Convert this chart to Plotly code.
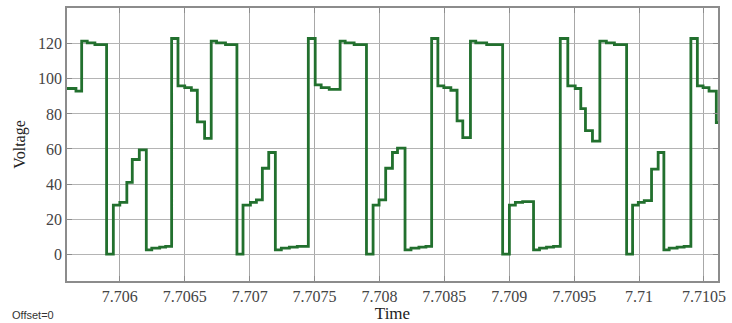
import plotly.graph_objects as go

# Step-waveform breakpoints (time in s) and voltage level held from each breakpoint
time_s = [
    7.705593, 7.705662, 7.705706, 7.705749, 7.705808, 7.705898, 7.705950, 7.706000,
    7.706054, 7.706096, 7.706150, 7.706204, 7.706246, 7.706307, 7.706353, 7.706399,
    7.706448, 7.706500, 7.706551, 7.706597, 7.706653, 7.706704, 7.706745, 7.706814,
    7.706902, 7.706949, 7.707006, 7.707052, 7.707098, 7.707147, 7.707198, 7.707244,
    7.707306, 7.707367, 7.707452, 7.707505, 7.707551, 7.707613, 7.707697, 7.707736,
    7.707805, 7.707900, 7.707951, 7.707997, 7.708048, 7.708100, 7.708139, 7.708197,
    7.708243, 7.708304, 7.708358, 7.708402, 7.708450, 7.708496, 7.708550, 7.708598,
    7.708642, 7.708701, 7.708742, 7.708826, 7.708949, 7.709001, 7.709047, 7.709103,
    7.709187, 7.709233, 7.709287, 7.709341, 7.709393, 7.709451, 7.709508, 7.709551,
    7.709587, 7.709641, 7.709698, 7.709748, 7.709810, 7.709904, 7.709950, 7.709994,
    7.710040, 7.710096, 7.710147, 7.710191, 7.710232, 7.710293, 7.710347, 7.710399,
    7.710449, 7.710493, 7.710539, 7.710595, 7.710610,
]
voltage = [
    94.5, 93.0, 121.5, 120.5, 119.5, 0.0, 28.0, 29.5,
    41.0, 54.0, 59.5, 2.5, 3.5, 4.0, 4.5, 123.0,
    96.0, 95.0, 93.5, 75.5, 66.0, 121.5, 120.5, 119.5,
    0.0, 28.0, 29.5, 31.0, 49.0, 58.0, 2.5, 3.5,
    4.0, 4.5, 123.0, 96.5, 95.0, 94.0, 121.5, 120.5,
    119.5, 0.0, 28.0, 31.0, 49.0, 58.0, 60.5, 2.5,
    3.5, 4.0, 4.5, 123.0, 96.0, 95.0, 93.5, 76.0,
    66.5, 121.5, 120.5, 119.5, 0.0, 28.0, 29.5, 30.0,
    2.5, 3.5, 4.0, 4.5, 123.0, 96.0, 94.5, 83.0,
    70.5, 64.5, 121.5, 120.5, 119.5, 0.0, 28.0, 29.5,
    30.5, 48.5, 58.0, 2.5, 3.5, 4.0, 4.5, 123.0,
    96.0, 95.0, 93.0, 75.0, 75.0,
]

x_ticks = [7.706, 7.7065, 7.707, 7.7075, 7.708, 7.7085, 7.709, 7.7095, 7.71, 7.7105]
x_tick_text = ["7.706", "7.7065", "7.707", "7.7075", "7.708", "7.7085", "7.709", "7.7095", "7.71", "7.7105"]
y_ticks = [0, 20, 40, 60, 80, 100, 120]
y_tick_text = ["0", "20", "40", "60", "80", "100", "120"]

serif = "Liberation Serif, Times New Roman, serif"

fig = go.Figure()
fig.add_trace(go.Scatter(
    x=time_s, y=voltage, mode="lines", line_shape="hv",
    line=dict(color="rgb(34,112,46)", width=2.8),
    showlegend=False, hoverinfo="x+y",
))

fig.update_layout(
    width=732, height=323,
    margin=dict(l=67, r=12, t=6, b=40),
    paper_bgcolor="white", plot_bgcolor="white",
    font=dict(family=serif, size=15, color="#333333"),
)
fig.update_xaxes(
    range=[7.705593, 7.710608],
    tickvals=x_ticks, ticktext=x_tick_text,
    showgrid=True, gridcolor="#a8a8a8", gridwidth=1,
    showline=True, linecolor="#8c8c8c", linewidth=1.5, mirror="ticks",
    ticks="inside", ticklen=5, tickcolor="#8c8c8c",
    zeroline=False,
    tickfont=dict(family=serif, size=16, color="#444444"),
    title=dict(text="Time", font=dict(family=serif, size=17, color="#222222"), standoff=0),
)
fig.update_yaxes(
    range=[-15.3, 140.4],
    tickvals=y_ticks, ticktext=y_tick_text,
    showgrid=True, gridcolor="#b4b4b4", gridwidth=1,
    showline=True, linecolor="#8c8c8c", linewidth=1.5, mirror="ticks",
    ticks="inside", ticklen=5, tickcolor="#8c8c8c",
    zeroline=False,
    tickfont=dict(family=serif, size=16, color="#444444"),
    title=dict(text="Voltage", font=dict(family=serif, size=16, color="#222222"), standoff=8),
)
fig.add_annotation(
    text="Offset=0", xref="paper", yref="paper", x=-0.087, y=-0.095,
    xanchor="left", yanchor="top", showarrow=False,
    font=dict(family="Liberation Sans, Arial, sans-serif", size=11, color="#333333"),
)

fig.write_html(
    "out.html",
    config={"displayModeBar": False},
    post_script="document.body.style.margin='0';document.body.style.overflow='hidden';",
)
